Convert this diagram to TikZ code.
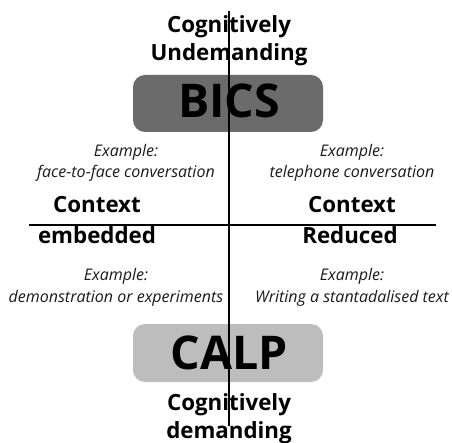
\documentclass[tikz,border=0pt]{standalone}
\usepackage{fontspec}
\setmainfont{Open Sans}
\begin{document}
\begin{tikzpicture}[x=1pt,y=-1pt,
  head/.style={font=\fontsize{22.3}{22}\selectfont\bfseries, inner sep=0pt, anchor=base},
  big/.style={font=\fontsize{46.5}{46}\selectfont\bfseries, inner sep=0pt, anchor=base},
  ex/.style={font=\fontsize{16}{16}\selectfont\itshape, inner sep=0pt, anchor=base, text=black!90},
  pill/.style={rounded corners=12pt, draw=none},
  axis/.style={line width=1.6pt, black}]
\useasboundingbox (0,0) rectangle (452,443);
% the two rounded bars
\fill[pill, fill=black!58] (133,75) rectangle (323,132);
\fill[pill, fill=black!26] (133,324) rectangle (323,382);
% labels
\node[head] (ct) at (229,33) {Cognitively};
\node[head] (un) at (229,61) {Undemanding};
\node[big] (bics) at (229,118) {BICS};
\node[ex] (e1) at (126,157) {Example:};
\node[ex] (e1t) at (126,178) {face-to-face conversation};
\node[ex] (e2) at (352,157) {Example:};
\node[ex] (e2t) at (352,178) {telephone conversation};
\node[head] (cl) at (97,213) {Context};
\node[head] (cr) at (352,213) {Context};
\node[head] (emb) at (97,244) {embedded};
\node[head] (red) at (350,244) {Reduced};
\node[ex] (e3) at (116,281) {Example:};
\node[ex] (e3t) at (116,302) {demonstration or experiments};
\node[ex] (e4) at (352,281) {Example:};
\node[ex] (e4t) at (352,302) {Writing a stantadalised text};
\node[big] (calp) at (229,369) {CALP};
\node[head] (cb) at (229,410) {Cognitively};
\node[head] (dm) at (229,438) {demanding};
% axes
\coordinate (vtop) at (229,11);
\coordinate (vbot) at (229,426);
\coordinate (hl) at (29,225);
\coordinate (hr) at (436,225);
\draw[axis] (vtop) -- (vbot);
\draw[axis] (hl) -- (hr);
\end{tikzpicture}
\end{document}
